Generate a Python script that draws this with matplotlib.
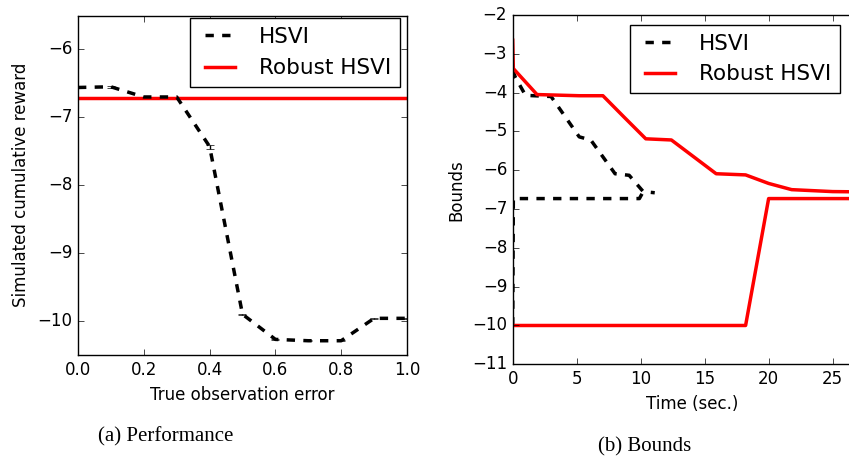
import numpy as np
import matplotlib
matplotlib.use('Agg')
import matplotlib.pyplot as plt
from matplotlib.lines import Line2D

# (a) performance vs observation error
obs_err = [0.0, 0.1, 0.2, 0.3, 0.4, 0.5, 0.6, 0.7, 0.8, 0.9, 1.0]
hsvi_reward = [-6.56, -6.55, -6.70, -6.70, -7.43, -9.90, -10.27, -10.29, -10.29, -9.96, -9.96]
hsvi_reward_err = [0.005, 0.015, 0.005, 0.005, 0.03, 0.005, 0.005, 0.005, 0.005, 0.01, 0.01]
robust_reward = -6.72

# (b) bounds over time
hsvi_up_t = [0, 0.2, 1.0, 3.0, 5.2, 6.1, 8.0, 9.1, 10.2, 11.1]
hsvi_up_v = [-3.42, -3.6, -4.07, -4.1, -5.14, -5.22, -6.09, -6.13, -6.55, -6.58]
hsvi_lo_t = [0, 0.05, 9.9, 10.2]
hsvi_lo_v = [-10.0, -6.73, -6.73, -6.55]
rob_up_t = [0, 0.05, 1.9, 5.2, 7.05, 8.7, 10.4, 12.4, 15.9, 18.2, 20.0, 21.8, 25.0, 28]
rob_up_v = [-2.65, -3.38, -4.05, -4.08, -4.08, -4.63, -5.19, -5.22, -6.09, -6.12, -6.34, -6.50, -6.55, -6.56]
rob_lo_t = [0, 18.2, 20.0, 28]
rob_lo_v = [-10.0, -10.0, -6.73, -6.73]

plt.style.use('classic')
plt.rcParams['font.family'] = 'DejaVu Sans'
plt.rcParams['font.size'] = 12

W, H = 849, 459
fig = plt.figure(figsize=(W / 100, H / 100), dpi=100, facecolor='white')

def box(x0, y0, x1, y1):
    # pixel box -> figure fraction
    return [x0 / W, 1 - y1 / H, (x1 - x0) / W, (y1 - y0) / H]

legend_handles = [Line2D([], [], color='k', ls='--', lw=2.5),
                  Line2D([], [], color='r', lw=2.5)]
legend_labels = ['HSVI', 'Robust HSVI']

ax1 = fig.add_axes(box(78, 15.5, 407, 355))
ax1.errorbar(obs_err, hsvi_reward, yerr=hsvi_reward_err, color='k', ls='--', lw=2.5,
             capsize=3, elinewidth=1)
ax1.axhline(robust_reward, color='r', lw=2.5)
ax1.set_xlim(0, 1)
ax1.set_ylim(-10.5, -5.5)
ax1.set_xticks(np.arange(0, 1.01, 0.2))
ax1.set_yticks([-10, -9, -8, -7, -6])
ax1.set_xlabel('True observation error', fontsize=12)
ax1.set_ylabel('Simulated cumulative reward', fontsize=12)
ax1.legend(legend_handles, legend_labels, loc='upper left',
           bbox_to_anchor=(190 / W, 1 - 18 / H), bbox_transform=fig.transFigure,
           fontsize=15.5, handlelength=2, borderaxespad=0, labelspacing=0.55, fancybox=False)

ax2 = fig.add_axes(box(512.7, 15, 871, 364.3))
ax2.plot(hsvi_up_t, hsvi_up_v, color='k', ls='--', lw=2.5)
ax2.plot(hsvi_lo_t, hsvi_lo_v, color='k', ls='--', lw=2.5)
ax2.plot(rob_up_t, rob_up_v, color='r', lw=2.5)
ax2.plot(rob_lo_t, rob_lo_v, color='r', lw=2.5)
ax2.set_xlim(0, 28)
ax2.set_ylim(-11, -2)
ax2.set_xticks([0, 5, 10, 15, 20, 25])
ax2.set_yticks(range(-11, -1))
ax2.set_xlabel('Time (sec.)', fontsize=12)
ax2.set_ylabel('Bounds', fontsize=12)
ax2.legend(legend_handles, legend_labels, loc='upper left',
           bbox_to_anchor=(630 / W, 1 - 25 / H), bbox_transform=fig.transFigure,
           fontsize=15.5, handlelength=2, borderaxespad=0, fancybox=False)

fig.text(166 / W, 1 - 437 / H, '(a) Performance', family='Liberation Serif', fontsize=15,
         ha='center', va='center')
fig.text(645 / W, 1 - 447 / H, '(b) Bounds', family='Liberation Serif', fontsize=15,
         ha='center', va='center')

fig.savefig('out.png', dpi=100, facecolor='white')
